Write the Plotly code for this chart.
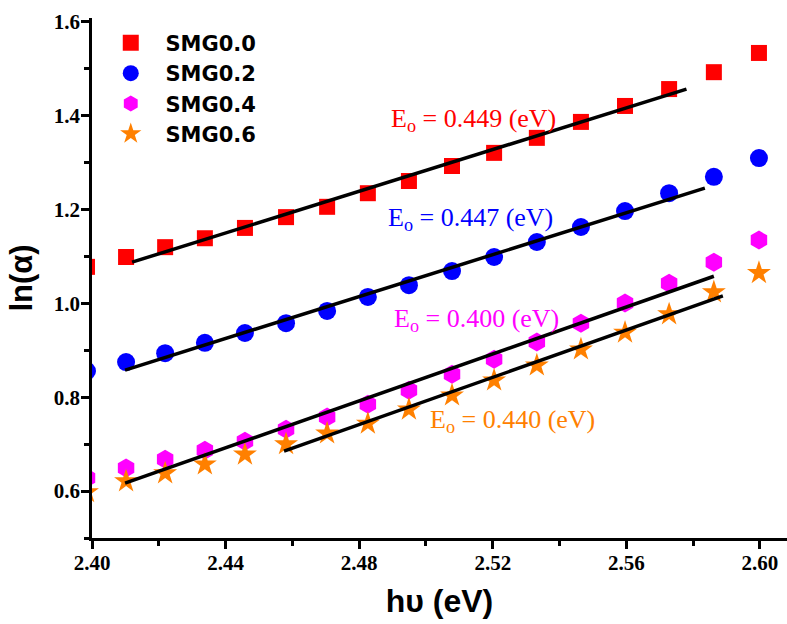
import plotly.graph_objects as go

# photon energy hv (eV) for each measured point
hv = [2.3985, 2.4102, 2.4219, 2.4338, 2.4458, 2.4581, 2.4704, 2.4826, 2.4949,
      2.5078, 2.5204, 2.5332, 2.5464, 2.5596, 2.5728, 2.5862, 2.5997]

# ln(alpha) for each sample
smg00 = [1.078, 1.099, 1.120, 1.139, 1.161, 1.184, 1.206, 1.235, 1.261,
         1.293, 1.321, 1.353, 1.387, 1.421, 1.457, 1.493, 1.534]
smg02 = [0.856, 0.875, 0.894, 0.916, 0.937, 0.958, 0.984, 1.014, 1.039,
         1.069, 1.099, 1.131, 1.163, 1.197, 1.235, 1.270, 1.310]
smg04 = [0.628, 0.649, 0.668, 0.687, 0.706, 0.732, 0.758, 0.785, 0.815,
         0.849, 0.881, 0.918, 0.958, 1.001, 1.043, 1.088, 1.135]
smg06 = [0.598, 0.621, 0.638, 0.657, 0.678, 0.700, 0.723, 0.744, 0.774,
         0.804, 0.836, 0.868, 0.902, 0.938, 0.977, 1.024, 1.065]

# linear Urbach fits: [start, end]
fit00_x = [2.412, 2.578]
fit00_y = [1.088, 1.457]
fit02_x = [2.4099, 2.5835]
fit02_y = [0.858, 1.246]
fit04_x = [2.4099, 2.5862]
fit04_y = [0.617, 1.058]
fit06_x = [2.4575, 2.5889]
fit06_y = [0.685, 1.016]

names = ["SMG0.0", "SMG0.2", "SMG0.4", "SMG0.6"]
urbach = ["0.449", "0.447", "0.400", "0.440"]
colors = ["#FF0000", "#0000FF", "#FF00FF", "#FF8000"]
symbols = ["square", "circle", "hexagon", "star"]
sizes = [16, 18, 19, 18]

fig = go.Figure()

series = [smg00, smg02, smg04, smg06]
for name, ys, col, sym, sz in zip(names, series, colors, symbols, sizes):
    fig.add_trace(go.Scatter(
        x=hv, y=ys, mode="markers", name="\u00a0\u00a0" + name,
        marker=dict(color=col, symbol=sym, size=sz, line=dict(width=0)),
        cliponaxis=True,
    ))

for fx, fy in [(fit00_x, fit00_y), (fit02_x, fit02_y),
               (fit04_x, fit04_y), (fit06_x, fit06_y)]:
    fig.add_trace(go.Scatter(
        x=fx, y=fy, mode="lines", showlegend=False,
        line=dict(color="black", width=3.5),
    ))

# Urbach energy labels
label_pos = [(2.5141, 1.391), (2.5132, 1.180), (2.515, 0.965), (2.526, 0.749)]
for (lx, ly), val, col in zip(label_pos, urbach, colors):
    fig.add_annotation(
        x=lx, y=ly, xref="x", yref="y", showarrow=False,
        text=f"E<sub>o</sub> = {val} (eV)",
        font=dict(family="Liberation Serif", size=26, color=col),
        xanchor="center", yanchor="middle",
    )

tick_font = dict(family="Liberation Serif", size=21, color="black", weight="bold")

fig.update_layout(
    width=787, height=624,
    margin=dict(l=92, r=0, t=18, b=86),
    paper_bgcolor="white", plot_bgcolor="white",
    showlegend=True,
    legend=dict(
        x=0.027, y=0.991, xanchor="left", yanchor="top",
        bgcolor="rgba(0,0,0,0)", borderwidth=0,
        font=dict(family="DejaVu Sans", size=21, color="black", weight="bold"),
        tracegroupgap=0, itemsizing="trace",
    ),
    xaxis=dict(
        range=[2.40, 2.6081], tickmode="linear", tick0=2.40, dtick=0.04,
        tickformat=".2f", ticks="outside", ticklen=8, tickwidth=2.5,
        tickcolor="black", showline=True, linewidth=2.5, linecolor="black",
        showgrid=False, zeroline=False, tickfont=tick_font,
        ticklabelstandoff=-4,
        minor=dict(ticks="outside", ticklen=5, tickwidth=2.5, tickcolor="black",
                   dtick=0.02, showgrid=False),
        title=dict(text="h\u03c5 (eV)", standoff=16,
                   font=dict(family="Liberation Sans", size=32, color="black",
                             weight="bold")),
    ),
    yaxis=dict(
        range=[0.5, 1.6085], tickmode="linear", tick0=0.6, dtick=0.2,
        tickformat=".1f", ticks="outside", ticklen=8, tickwidth=2.5,
        tickcolor="black", showline=True, linewidth=2.5, linecolor="black",
        showgrid=False, zeroline=False, tickfont=tick_font,
        ticklabelstandoff=-3,
        minor=dict(ticks="outside", ticklen=5, tickwidth=2.5, tickcolor="black",
                   dtick=0.1, showgrid=False),
        title=dict(text="ln(\u03b1)", standoff=12,
                   font=dict(family="Liberation Sans", size=31, color="black",
                             weight="bold")),
    ),
)

fig.write_html("out.html")
